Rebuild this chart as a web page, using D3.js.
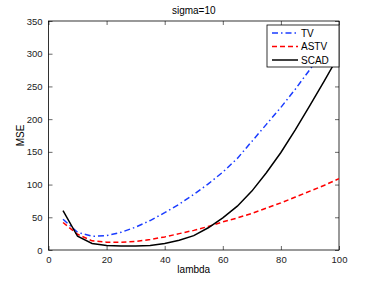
<!DOCTYPE html>
<html><head><meta charset="utf-8">
<script src="https://cdn.jsdelivr.net/npm/d3@7"></script>
<style>body{margin:0;background:#fff}svg{display:block}text{font-family:"Liberation Sans",Arial,sans-serif}</style>
</head><body>
<script>
const lambda = [5,10,15,20,25,30,35,40,45,50,55,60,65,70,75,80,85,90,95,100];
const tv   = [47,27,21,22,27,35,45,57,70,85,101,119,140,166,192,218,246,276,305,332];
const astv = [42,24,14,12,12,13,16,20,25,30,36,43,49,56,64,72,81,90,99,109];
const scad = [60,21,10,7,6,6,7,10,15,22,34,49,67,90,118,149,184,221,259,298];
const xTicks = [0,20,40,60,80,100];
const yTicks = [0,50,100,150,200,250,300,350];
const seriesNames = ["TV","ASTV","SCAD"];

const W=374,H=281, L=48.5, R=339, T=21, B=250;
const svg=d3.select("body").append("svg").attr("width",W).attr("height",H);
const x=d3.scaleLinear().domain([0,100]).range([L,R]);
const y=d3.scaleLinear().domain([0,350]).range([B,T]);

const g=svg.append("g");
g.append("rect").attr("x",L).attr("y",T).attr("width",R-L).attr("height",B-T).attr("fill","#fff").attr("stroke","#000").attr("stroke-width",0.8);

const ax=g=>g.selectAll(".domain").remove();
svg.append("g").attr("transform",`translate(0,${B})`).call(d3.axisBottom(x).tickValues(xTicks).tickSizeInner(-4).tickSizeOuter(0).tickPadding(6)).call(ax);
svg.append("g").attr("transform",`translate(0,${T})`).call(d3.axisTop(x).tickValues(xTicks).tickSizeInner(-4).tickSizeOuter(0).tickFormat("")).call(ax);
svg.append("g").attr("transform",`translate(${L},0)`).call(d3.axisLeft(y).tickValues(yTicks).tickSizeInner(-4).tickSizeOuter(0).tickPadding(6)).call(ax);
svg.append("g").attr("transform",`translate(${R},0)`).call(d3.axisRight(y).tickValues(yTicks).tickSizeInner(-4).tickSizeOuter(0).tickFormat("")).call(ax);
svg.selectAll(".tick text").attr("font-size",9.5).attr("fill","#222").attr("font-family","Liberation Sans, Arial, sans-serif");
svg.selectAll(".tick line").attr("stroke","#000").attr("stroke-width",0.6);

const clip=svg.append("clipPath").attr("id","c").append("rect").attr("x",L).attr("y",T).attr("width",R-L).attr("height",B-T);
const line=vals=>d3.line().x((d,i)=>x(lambda[i])).y(d=>y(d))(vals);
const styles=[{c:"#1a3cff",d:"6,3,1.5,3"},{c:"#ff0000",d:"5,3"},{c:"#000",d:null}];
const data=[tv,astv,scad];
const pg=svg.append("g").attr("clip-path","url(#c)");
data.forEach((v,i)=>{
  pg.append("path").attr("d",line(v)).attr("fill","none").attr("stroke",styles[i].c).attr("stroke-width",1.5).attr("stroke-dasharray",styles[i].d);
});

// legend
const lg=svg.append("g");
lg.append("rect").attr("x",267).attr("y",25).attr("width",72).attr("height",42).attr("fill","#fff").attr("stroke","#000").attr("stroke-width",0.8);
seriesNames.forEach((n,i)=>{
  const yy=33+i*13.5;
  lg.append("line").attr("x1",272).attr("x2",298).attr("y1",yy).attr("y2",yy).attr("stroke",styles[i].c).attr("stroke-width",1.5).attr("stroke-dasharray",styles[i].d);
  lg.append("text").attr("x",301).attr("y",yy+3.5).attr("font-size",10).attr("fill","#000").text(n);
});

svg.append("text").attr("x",(L+R)/2).attr("y",14).attr("text-anchor","middle").attr("font-size",10).text("sigma=10");
svg.append("text").attr("x",(L+R)/2).attr("y",273).attr("text-anchor","middle").attr("font-size",10).text("lambda");
svg.append("text").attr("transform",`translate(24,${(T+B)/2}) rotate(-90)`).attr("text-anchor","middle").attr("font-size",10).text("MSE");
</script>
</body></html>
